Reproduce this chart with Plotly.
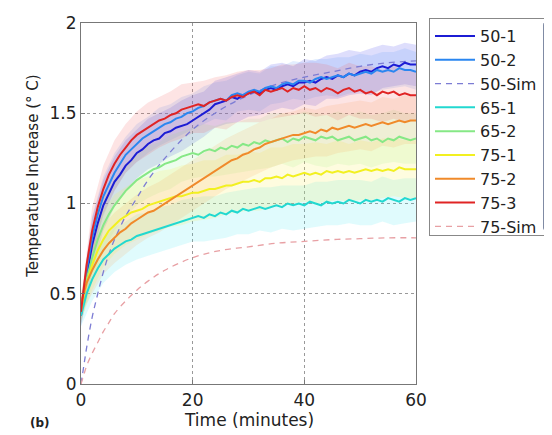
import plotly.graph_objects as go

# time axis (minutes)
T = list(range(0, 61))
T_BAND = list(range(0, 61, 2))
T_SIM = [0, 0.5, 1, 2, 3, 4, 5, 6, 8, 10, 12, 15, 20, 25, 30, 35, 40, 45, 50, 55, 60]

# measured curves, one value per minute
S50_1 = [0.38, 0.60, 0.77, 0.89, 0.99, 1.06, 1.12, 1.16, 1.21, 1.24,
         1.28, 1.30, 1.33, 1.35, 1.36, 1.39, 1.40, 1.42, 1.43, 1.44,
         1.46, 1.48, 1.50, 1.52, 1.55, 1.56, 1.57, 1.59, 1.58, 1.60,
         1.61, 1.62, 1.61, 1.63, 1.64, 1.63, 1.65, 1.66, 1.65, 1.67,
         1.67, 1.68, 1.67, 1.69, 1.70, 1.69, 1.71, 1.70, 1.72, 1.71,
         1.73, 1.74, 1.73, 1.75, 1.76, 1.75, 1.77, 1.76, 1.78, 1.77, 1.77]
S50_2 = [0.40, 0.63, 0.81, 0.94, 1.04, 1.11, 1.17, 1.22, 1.27, 1.30,
         1.33, 1.36, 1.38, 1.40, 1.42, 1.44, 1.45, 1.47, 1.48, 1.50,
         1.51, 1.53, 1.54, 1.56, 1.57, 1.58, 1.57, 1.60, 1.61, 1.60,
         1.62, 1.63, 1.62, 1.64, 1.65, 1.64, 1.66, 1.67, 1.66, 1.68,
         1.68, 1.67, 1.69, 1.70, 1.69, 1.70, 1.71, 1.70, 1.72, 1.71,
         1.72, 1.73, 1.72, 1.74, 1.73, 1.74, 1.73, 1.75, 1.74, 1.74, 1.73]
S65_1 = [0.38, 0.50, 0.58, 0.64, 0.69, 0.72, 0.75, 0.77, 0.79, 0.80,
         0.82, 0.83, 0.84, 0.85, 0.86, 0.87, 0.88, 0.89, 0.90, 0.91,
         0.92, 0.93, 0.92, 0.94, 0.93, 0.95, 0.94, 0.96, 0.95, 0.97,
         0.96, 0.97, 0.98, 0.97, 0.98, 0.99, 0.98, 1.00, 0.99, 1.00,
         0.99, 1.01, 1.00, 0.99, 1.01, 1.00, 1.01, 1.00, 1.02, 1.01,
         1.00, 1.02, 1.01, 1.02, 1.01, 1.03, 1.02, 1.01, 1.03, 1.02, 1.03]
S65_2 = [0.40, 0.58, 0.70, 0.80, 0.88, 0.94, 0.99, 1.03, 1.07, 1.10,
         1.13, 1.15, 1.17, 1.19, 1.20, 1.22, 1.23, 1.24, 1.26, 1.27,
         1.28, 1.27, 1.29, 1.30, 1.29, 1.31, 1.30, 1.32, 1.31, 1.33,
         1.32, 1.34, 1.33, 1.35, 1.34, 1.35, 1.36, 1.34, 1.36, 1.35,
         1.37, 1.36, 1.35, 1.37, 1.36, 1.37, 1.35, 1.36, 1.37, 1.35,
         1.36, 1.37, 1.35, 1.36, 1.34, 1.36, 1.35, 1.37, 1.36, 1.35, 1.36]
S75_1 = [0.42, 0.56, 0.66, 0.74, 0.80, 0.85, 0.88, 0.91, 0.93, 0.95,
         0.96, 0.97, 0.99, 1.00, 1.01, 1.02, 1.03, 1.04, 1.04, 1.05,
         1.06, 1.06, 1.07, 1.08, 1.08, 1.09, 1.10, 1.10, 1.11, 1.12,
         1.12, 1.13, 1.12, 1.14, 1.14, 1.15, 1.14, 1.16, 1.15, 1.16,
         1.17, 1.16, 1.17, 1.16, 1.18, 1.17, 1.18, 1.17, 1.18, 1.17,
         1.18, 1.19, 1.18, 1.19, 1.18, 1.19, 1.18, 1.20, 1.19, 1.19, 1.19]
S75_2 = [0.45, 0.56, 0.63, 0.69, 0.74, 0.78, 0.81, 0.84, 0.86, 0.89,
         0.91, 0.93, 0.95, 0.96, 0.98, 1.00, 1.02, 1.04, 1.06, 1.08,
         1.10, 1.12, 1.14, 1.16, 1.18, 1.20, 1.22, 1.24, 1.25, 1.27,
         1.28, 1.30, 1.31, 1.33, 1.34, 1.35, 1.36, 1.37, 1.38, 1.38,
         1.39, 1.40, 1.39, 1.41, 1.40, 1.42, 1.41, 1.42, 1.43, 1.42,
         1.43, 1.44, 1.43, 1.44, 1.45, 1.44, 1.45, 1.46, 1.45, 1.46, 1.46]
S75_3 = [0.40, 0.66, 0.85, 0.98, 1.08, 1.16, 1.22, 1.27, 1.31, 1.35,
         1.38, 1.40, 1.42, 1.44, 1.46, 1.47, 1.49, 1.50, 1.52, 1.53,
         1.54, 1.55, 1.54, 1.56, 1.57, 1.58, 1.57, 1.59, 1.60, 1.59,
         1.61, 1.62, 1.60, 1.63, 1.62, 1.63, 1.64, 1.62, 1.64, 1.63,
         1.65, 1.63, 1.64, 1.62, 1.64, 1.63, 1.61, 1.63, 1.64, 1.62,
         1.63, 1.61, 1.62, 1.60, 1.62, 1.61, 1.62, 1.60, 1.61, 1.60, 1.60]

# simulations
SIM_50 = [0, 0.10, 0.20, 0.37, 0.50, 0.62, 0.72, 0.80, 0.93, 1.03, 1.13, 1.25,
          1.41, 1.52, 1.60, 1.66, 1.70, 1.73, 1.76, 1.78, 1.79]
SIM_75 = [0, 0.05, 0.10, 0.17, 0.23, 0.29, 0.34, 0.39, 0.46, 0.52, 0.57, 0.63,
          0.70, 0.74, 0.76, 0.78, 0.79, 0.80, 0.805, 0.81, 0.81]

# spread bands (every 2 minutes)
UP50_1 = [0.45, 0.92, 1.13, 1.26, 1.35, 1.41, 1.47, 1.50, 1.53, 1.57, 1.60, 1.62, 1.68, 1.70, 1.72, 1.74,
          1.73, 1.77, 1.78, 1.76, 1.80, 1.79, 1.82, 1.83, 1.85, 1.84, 1.86, 1.88, 1.87, 1.89, 1.88]
LO50_1 = [0.32, 0.62, 0.85, 0.98, 1.07, 1.14, 1.19, 1.22, 1.26, 1.29, 1.33, 1.37, 1.42, 1.44, 1.45, 1.48,
          1.49, 1.51, 1.53, 1.52, 1.55, 1.54, 1.58, 1.58, 1.60, 1.61, 1.60, 1.64, 1.65, 1.66, 1.65]
UP50_2 = [0.46, 0.93, 1.15, 1.28, 1.37, 1.44, 1.48, 1.53, 1.55, 1.59, 1.61, 1.65, 1.67, 1.68, 1.71, 1.73,
          1.72, 1.76, 1.76, 1.79, 1.78, 1.80, 1.80, 1.81, 1.81, 1.83, 1.82, 1.84, 1.84, 1.86, 1.84]
LO50_2 = [0.34, 0.70, 0.93, 1.07, 1.17, 1.23, 1.28, 1.32, 1.35, 1.38, 1.41, 1.44, 1.47, 1.46, 1.51, 1.52,
          1.51, 1.55, 1.56, 1.58, 1.57, 1.59, 1.60, 1.59, 1.61, 1.62, 1.61, 1.63, 1.64, 1.65, 1.63]
UP65_1 = [0.44, 0.70, 0.80, 0.87, 0.90, 0.94, 0.95, 0.98, 0.99, 1.02, 1.03, 1.04, 1.04, 1.06, 1.07, 1.08,
          1.09, 1.09, 1.10, 1.10, 1.10, 1.12, 1.12, 1.13, 1.13, 1.13, 1.12, 1.15, 1.13, 1.14, 1.14]
LO65_1 = [0.32, 0.46, 0.56, 0.62, 0.66, 0.69, 0.71, 0.73, 0.75, 0.77, 0.79, 0.79, 0.80, 0.81, 0.83, 0.83,
          0.85, 0.84, 0.86, 0.85, 0.86, 0.87, 0.88, 0.88, 0.89, 0.88, 0.88, 0.90, 0.88, 0.89, 0.90]
UP65_2 = [0.46, 0.84, 1.02, 1.14, 1.21, 1.27, 1.32, 1.34, 1.38, 1.40, 1.42, 1.44, 1.43, 1.45, 1.45, 1.47,
          1.47, 1.50, 1.50, 1.49, 1.51, 1.50, 1.49, 1.51, 1.49, 1.51, 1.49, 1.50, 1.52, 1.50, 1.50]
LO65_2 = [0.34, 0.56, 0.74, 0.85, 0.93, 0.99, 1.03, 1.06, 1.08, 1.12, 1.14, 1.15, 1.15, 1.16, 1.17, 1.18,
          1.19, 1.20, 1.22, 1.20, 1.23, 1.21, 1.20, 1.22, 1.21, 1.22, 1.20, 1.22, 1.23, 1.22, 1.22]
UP75_1 = [0.49, 0.82, 0.96, 1.05, 1.09, 1.13, 1.15, 1.18, 1.19, 1.21, 1.22, 1.24, 1.24, 1.27, 1.27, 1.29,
          1.28, 1.31, 1.31, 1.33, 1.33, 1.34, 1.33, 1.35, 1.33, 1.35, 1.34, 1.36, 1.36, 1.35, 1.35]
LO75_1 = [0.35, 0.52, 0.65, 0.72, 0.77, 0.80, 0.83, 0.85, 0.87, 0.88, 0.90, 0.91, 0.92, 0.94, 0.95, 0.96,
          0.96, 0.98, 0.99, 1.00, 1.01, 1.00, 1.01, 1.02, 1.01, 1.02, 1.02, 1.03, 1.04, 1.03, 1.03]
UP75_2 = [0.51, 0.77, 0.88, 0.95, 1.00, 1.05, 1.09, 1.12, 1.16, 1.20, 1.24, 1.28, 1.32, 1.36, 1.39, 1.42,
          1.45, 1.47, 1.50, 1.51, 1.53, 1.52, 1.54, 1.55, 1.56, 1.57, 1.56, 1.59, 1.58, 1.60, 1.59]
LO75_2 = [0.39, 0.50, 0.61, 0.67, 0.72, 0.77, 0.81, 0.84, 0.88, 0.92, 0.96, 1.00, 1.04, 1.08, 1.11, 1.14,
          1.17, 1.20, 1.22, 1.24, 1.25, 1.26, 1.26, 1.28, 1.29, 1.30, 1.29, 1.32, 1.31, 1.33, 1.33]
UP75_3 = [0.47, 0.98, 1.21, 1.35, 1.44, 1.51, 1.56, 1.59, 1.62, 1.66, 1.67, 1.68, 1.70, 1.71, 1.73, 1.74,
          1.74, 1.75, 1.77, 1.77, 1.78, 1.78, 1.77, 1.75, 1.78, 1.76, 1.76, 1.74, 1.76, 1.74, 1.73]
LO75_3 = [0.33, 0.72, 0.94, 1.07, 1.17, 1.23, 1.27, 1.31, 1.34, 1.36, 1.39, 1.39, 1.42, 1.41, 1.45, 1.45,
          1.45, 1.47, 1.48, 1.49, 1.50, 1.48, 1.49, 1.46, 1.49, 1.47, 1.47, 1.45, 1.47, 1.45, 1.46]

NAMES = ["50-1", "50-2", "65-1", "65-2", "75-1", "75-2", "75-3"]
SERIES = [S50_1, S50_2, S65_1, S65_2, S75_1, S75_2, S75_3]
UPPER = [UP50_1, UP50_2, UP65_1, UP65_2, UP75_1, UP75_2, UP75_3]
LOWER = [LO50_1, LO50_2, LO65_1, LO65_2, LO75_1, LO75_2, LO75_3]
COLORS = ["#1c1cd4", "#2a86f0", "#22d8d0", "#86e886", "#f2f020", "#f08a2a", "#e02424"]
FILLS = ["rgba(90,90,240,0.20)", "rgba(80,150,250,0.16)", "rgba(60,230,240,0.16)",
         "rgba(140,240,140,0.16)", "rgba(250,240,80,0.18)", "rgba(250,170,90,0.16)",
         "rgba(240,90,90,0.16)"]
RANK = {"50-1": 1, "50-2": 2, "50-Sim": 3, "65-1": 4, "65-2": 5,
        "75-1": 6, "75-2": 7, "75-3": 8, "75-Sim": 9}

FONT = "DejaVu Sans, Arial, sans-serif"
INK = "#222"

# plot box in page pixels (the page body adds an 8px offset)
PX_L, PX_R, PX_T, PX_B = 81, 416, 18, 384


def paper_x(px):
    return (px - PX_L) / (PX_R - PX_L)


def paper_y(py):
    return (PX_B - py) / (PX_B - PX_T)


fig = go.Figure()

# shaded spread bands
for up, lo, fc in zip(UPPER, LOWER, FILLS):
    fig.add_trace(go.Scatter(x=T_BAND, y=lo, mode="lines", line=dict(width=0),
                             showlegend=False, hoverinfo="skip"))
    fig.add_trace(go.Scatter(x=T_BAND, y=up, mode="lines", line=dict(width=0),
                             fill="tonexty", fillcolor=fc,
                             showlegend=False, hoverinfo="skip"))

# simulations
fig.add_trace(go.Scatter(x=T_SIM, y=SIM_50, mode="lines", name="50-Sim",
                         line=dict(color="#7c7cd4", width=1.3, dash="6px,5px", shape="spline"),
                         legendrank=RANK["50-Sim"]))
fig.add_trace(go.Scatter(x=T_SIM, y=SIM_75, mode="lines", name="75-Sim",
                         line=dict(color="#e8a0a4", width=1.3, dash="6px,5px", shape="spline"),
                         legendrank=RANK["75-Sim"]))

# measurements
for name, ys, col in zip(NAMES, SERIES, COLORS):
    fig.add_trace(go.Scatter(x=T, y=ys, mode="lines", name=name,
                             line=dict(color=col, width=2),
                             legendrank=RANK[name]))

axis_common = dict(
    showline=True, linecolor="#777", linewidth=1, mirror=True,
    ticks="inside", ticklen=4, tickcolor="#777",
    showgrid=True, gridcolor="#999", griddash="dot", gridwidth=1,
    zeroline=False, automargin=False, ticklabeloverflow="allow",
    tickfont=dict(family=FONT, size=17, color=INK),
)

fig.update_layout(
    width=552, height=435,
    margin=dict(l=PX_L - 8, r=552 + 8 - PX_R, t=PX_T - 8, b=435 + 8 - PX_B),
    paper_bgcolor="white", plot_bgcolor="white",
    font=dict(family=FONT, color=INK),
    xaxis=dict(range=[0, 60], dtick=20, ticklabelstandoff=1, **axis_common),
    yaxis=dict(range=[0, 2], dtick=0.5, **axis_common),
    legend=dict(x=paper_x(429), y=paper_y(13), xanchor="left", yanchor="top",
                bordercolor="#888", borderwidth=1, bgcolor="white",
                font=dict(family=FONT, size=16, color=INK),
                traceorder="normal", tracegroupgap=0, itemwidth=40),
    showlegend=True,
    annotations=[
        dict(text="Time (minutes)", x=0.5, y=paper_y(421), xref="paper", yref="paper",
             xanchor="center", yanchor="middle", showarrow=False,
             font=dict(family=FONT, size=17, color=INK)),
        dict(text="Temperature Increase (° C)", x=paper_x(33), y=paper_y(174),
             xref="paper", yref="paper", xanchor="center", yanchor="middle",
             textangle=-90, showarrow=False,
             font=dict(family=FONT, size=15, color=INK)),
        dict(text="<b>(b)</b>", x=paper_x(40), y=paper_y(424), xref="paper", yref="paper",
             xanchor="center", yanchor="middle", showarrow=False,
             font=dict(family=FONT, size=12, color=INK)),
    ],
)

fig.write_html("out.html")
